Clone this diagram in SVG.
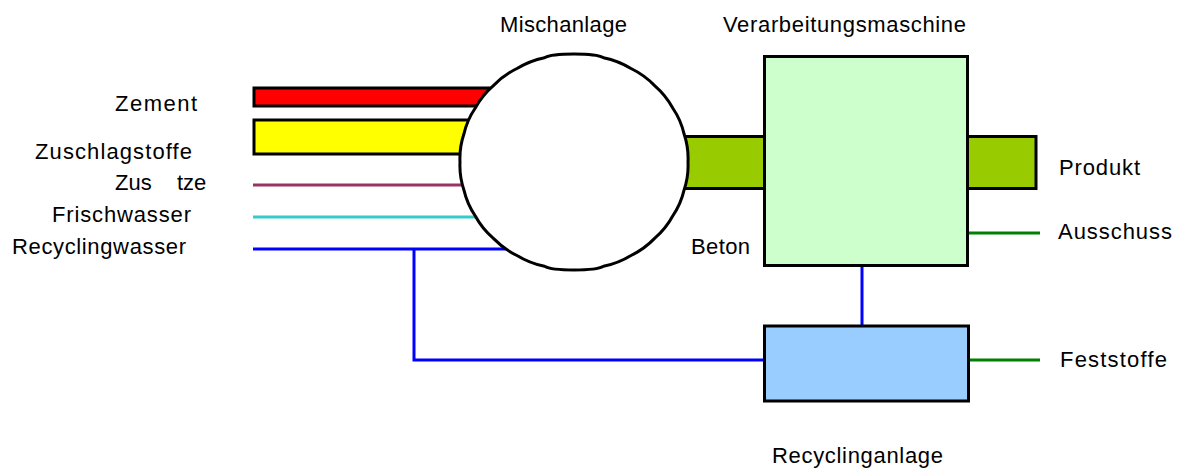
<svg xmlns="http://www.w3.org/2000/svg" width="1178" height="468" viewBox="0 0 1178 468">
  <style>
    text { font-family: "Liberation Sans", Arial, sans-serif; font-size: 22px; fill: #000; }
    .box { stroke: #000; stroke-width: 3; }
    .flow { fill: none; stroke-width: 3; }
    .blue { stroke: #0000FF; }
    .green { stroke: #008000; }
  </style>

  <!-- material feeds into the mixer -->
  <g id="feeds">
    <rect class="box" x="254" y="88" width="260" height="18" fill="#FF0000"/>
    <rect class="box" x="254" y="120" width="240" height="34" fill="#FFFF00"/>
    <line class="flow" x1="253" y1="185" x2="480" y2="185" stroke="#993366"/>
    <line class="flow" x1="253" y1="217" x2="490" y2="217" stroke="#33CCCC"/>
  </g>

  <!-- connectors -->
  <g id="connectors">
    <polyline class="flow blue" points="253,249 520,249"/>
    <polyline class="flow blue" points="414,249 414,360 765,360"/>
    <line class="flow blue" x1="862" y1="266" x2="862" y2="326"/>
    <line class="flow green" x1="969" y1="233" x2="1040" y2="233"/>
    <line class="flow green" x1="969" y1="360" x2="1040" y2="360"/>
  </g>

  <!-- concrete (Beton) channel and product outlet -->
  <g id="beton">
    <rect class="box" x="650" y="136.5" width="116" height="52" fill="#99CC00"/>
  </g>
  <g id="produkt">
    <rect class="box" x="966" y="136.5" width="70" height="52" fill="#99CC00"/>
  </g>

  <!-- mixer: slightly scalloped circle -->
  <g id="mischanlage">
    <path class="box" fill="#FFFFFF" d="M688,162 Q688.7,176.3 684.1,189.9 Q680.9,204 672.7,216 Q665.8,228.7 654.6,238.4 Q644.4,249 631,255.5 Q618.3,263.3 603.5,266.3 Q597,270 574,270 Q551,270 544.5,266.3 Q529.7,263.3 517,255.5 Q503.6,249 493.4,238.4 Q482.2,228.7 475.3,216 Q467.1,204 463.9,189.9 Q459.3,176.3 460,162 Q459.3,147.7 463.9,134.1 Q467.1,120 475.3,108 Q482.2,95.3 493.4,85.6 Q503.6,75 517,68.5 Q529.7,60.7 544.5,57.7 Q551,54 574,54 Q597,54 603.5,57.7 Q618.3,60.7 631,68.5 Q644.4,75 654.6,85.6 Q665.8,95.3 672.7,108 Q680.9,120 684.1,134.1 Q688.7,147.7 688,162 Z"/>
    <text x="500" y="32" textLength="127">Mischanlage</text>
  </g>

  <!-- processing machine -->
  <g id="verarbeitungsmaschine">
    <rect class="box" x="764.5" y="56.5" width="203" height="209" fill="#CCFFCC"/>
    <text x="723" y="32" textLength="243">Verarbeitungsmaschine</text>
  </g>

  <!-- recycling plant -->
  <g id="recyclinganlage">
    <rect class="box" x="764.5" y="326" width="204" height="75" fill="#99CCFF"/>
    <text x="772" y="463" textLength="171">Recyclinganlage</text>
  </g>

  <!-- labels -->
  <g id="labels">
    <text x="115" y="111" textLength="82">Zement</text>
    <text x="35" y="159" textLength="157">Zuschlagstoffe</text>
    <text y="190"><tspan x="115">Zus</tspan><tspan x="177">tze</tspan></text>
    <text x="52" y="222" textLength="139">Frischwasser</text>
    <text x="12" y="254" textLength="174">Recyclingwasser</text>
    <text x="691" y="254" textLength="59">Beton</text>
    <text x="1059" y="175" textLength="81">Produkt</text>
    <text x="1058" y="239" textLength="114">Ausschuss</text>
    <text x="1060" y="367" textLength="107">Feststoffe</text>
  </g>
</svg>
